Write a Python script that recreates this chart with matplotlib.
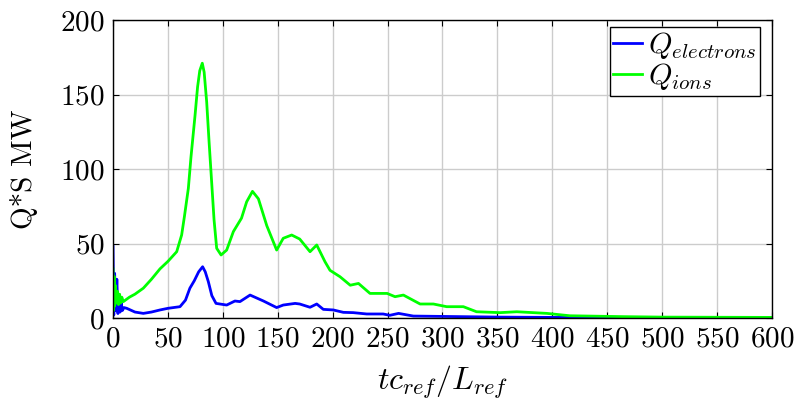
import matplotlib
matplotlib.use("Agg")
import matplotlib.pyplot as plt

plt.rcParams["font.family"] = "serif"
plt.rcParams["font.serif"] = ["cmr10", "DejaVu Serif"]
plt.rcParams["mathtext.fontset"] = "cm"
plt.rcParams["axes.formatter.use_mathtext"] = True

# valores
t_ions = [0, 0.5, 1, 1.5, 2, 3, 4, 5, 6, 7, 8, 9.4, 15, 20, 27.6, 35, 42.8, 50, 58,
          62.5, 65, 68.6, 71, 74.7, 77, 79, 81.3, 83, 85.3, 87.5, 89.8, 92, 94.4,
          98.4, 103.5, 109.6, 117, 121.7, 127, 132.4, 140, 149, 155, 162.7, 170,
          179.4, 185.5, 193, 197.6, 206.7, 216, 223.5, 234, 249.6, 256.8, 264.4,
          279.6, 291.7, 303.8, 319, 331, 352.5, 367.6, 395, 416, 466, 500, 550, 600]
q_ions = [33, 5, 28, 8, 22, 10, 18, 9, 16, 10, 14, 11, 14, 16, 20, 26, 33, 38, 44.5,
          55.7, 68, 87, 108, 136, 155, 166, 171, 165, 145, 118, 91.5, 66, 46.8,
          42.3, 45.6, 58, 67, 78, 85, 80, 62, 45.6, 53.5, 55.7, 53,
          44.5, 49, 37.8, 32, 27.7, 22, 23.2, 16.5, 16.5, 14.3, 15.4,
          9.4, 9.4, 7.6, 7.6, 4.2, 3.6, 4.2, 3.1, 1.5, 0.9, 0.6, 0.5, 0.4]

t_elec = [0, 0.7, 1.5, 2.5, 3.5, 4.5, 5.5, 6.5, 7.5, 8.5, 10, 12.5, 20, 27.6, 35,
          42.8, 50, 61, 66, 70, 74, 78, 81.6, 84, 86.8, 90, 93.8, 103.5, 111,
          115.6, 124.8, 137, 149, 155, 165.8, 170, 179.4, 185.5, 191.5, 200.6,
          209.7, 218.8, 231, 246, 252, 260, 273.5, 307, 352, 400, 500, 600]
q_elec = [48, 2, 30, 5, 26, 3, 15, 4, 10, 5, 7, 6.5, 4, 3.1, 4,
          5.4, 6.5, 7.6, 12, 20, 25, 31, 34.4, 31, 24.4, 15, 9.8, 8.7, 11.4,
          11, 15.4, 11.4, 7, 8.7, 9.8, 9.4, 7.2, 9.4, 5.8, 5.4,
          3.8, 3.6, 2.7, 2.7, 1.8, 3.1, 1.3, 1.0, 0.6, 0.4, 0.3, 0.3]

fig = plt.figure(figsize=(7.98, 4.05), dpi=100)
ax = fig.add_axes([0.1416, 0.2148, 0.8258, 0.7358])

ax.plot(t_elec, q_elec, color="#0000ff", lw=2, label=r"$Q_{electrons}$")
ax.plot(t_ions, q_ions, color="#00ff00", lw=2, label=r"$Q_{ions}$")

ax.set_xlim(0, 600)
ax.set_ylim(0, 200)
ax.set_xticks(range(0, 601, 50))
ax.set_yticks(range(0, 201, 50))
ax.grid(True, color="#cccccc", lw=1)
ax.set_axisbelow(True)
ax.tick_params(direction="in", top=True, right=True, length=4, labelsize=21, pad=6)
for s in ax.spines.values():
    s.set_linewidth(1)

ax.set_xlabel(r"$tc_{ref}/L_{ref}$", fontsize=23, labelpad=8)
ax.set_ylabel("Q*S MW", fontsize=21, labelpad=16)

leg = ax.legend(loc="upper right", bbox_to_anchor=(0.982, 0.977), fontsize=21.5,
                fancybox=False, framealpha=1, edgecolor="black",
                handlelength=0.95, handletextpad=0.2, borderpad=0.12,
                labelspacing=0.0, borderaxespad=0)
leg.get_frame().set_linewidth(1)

fig.savefig("out.png", dpi=100)
